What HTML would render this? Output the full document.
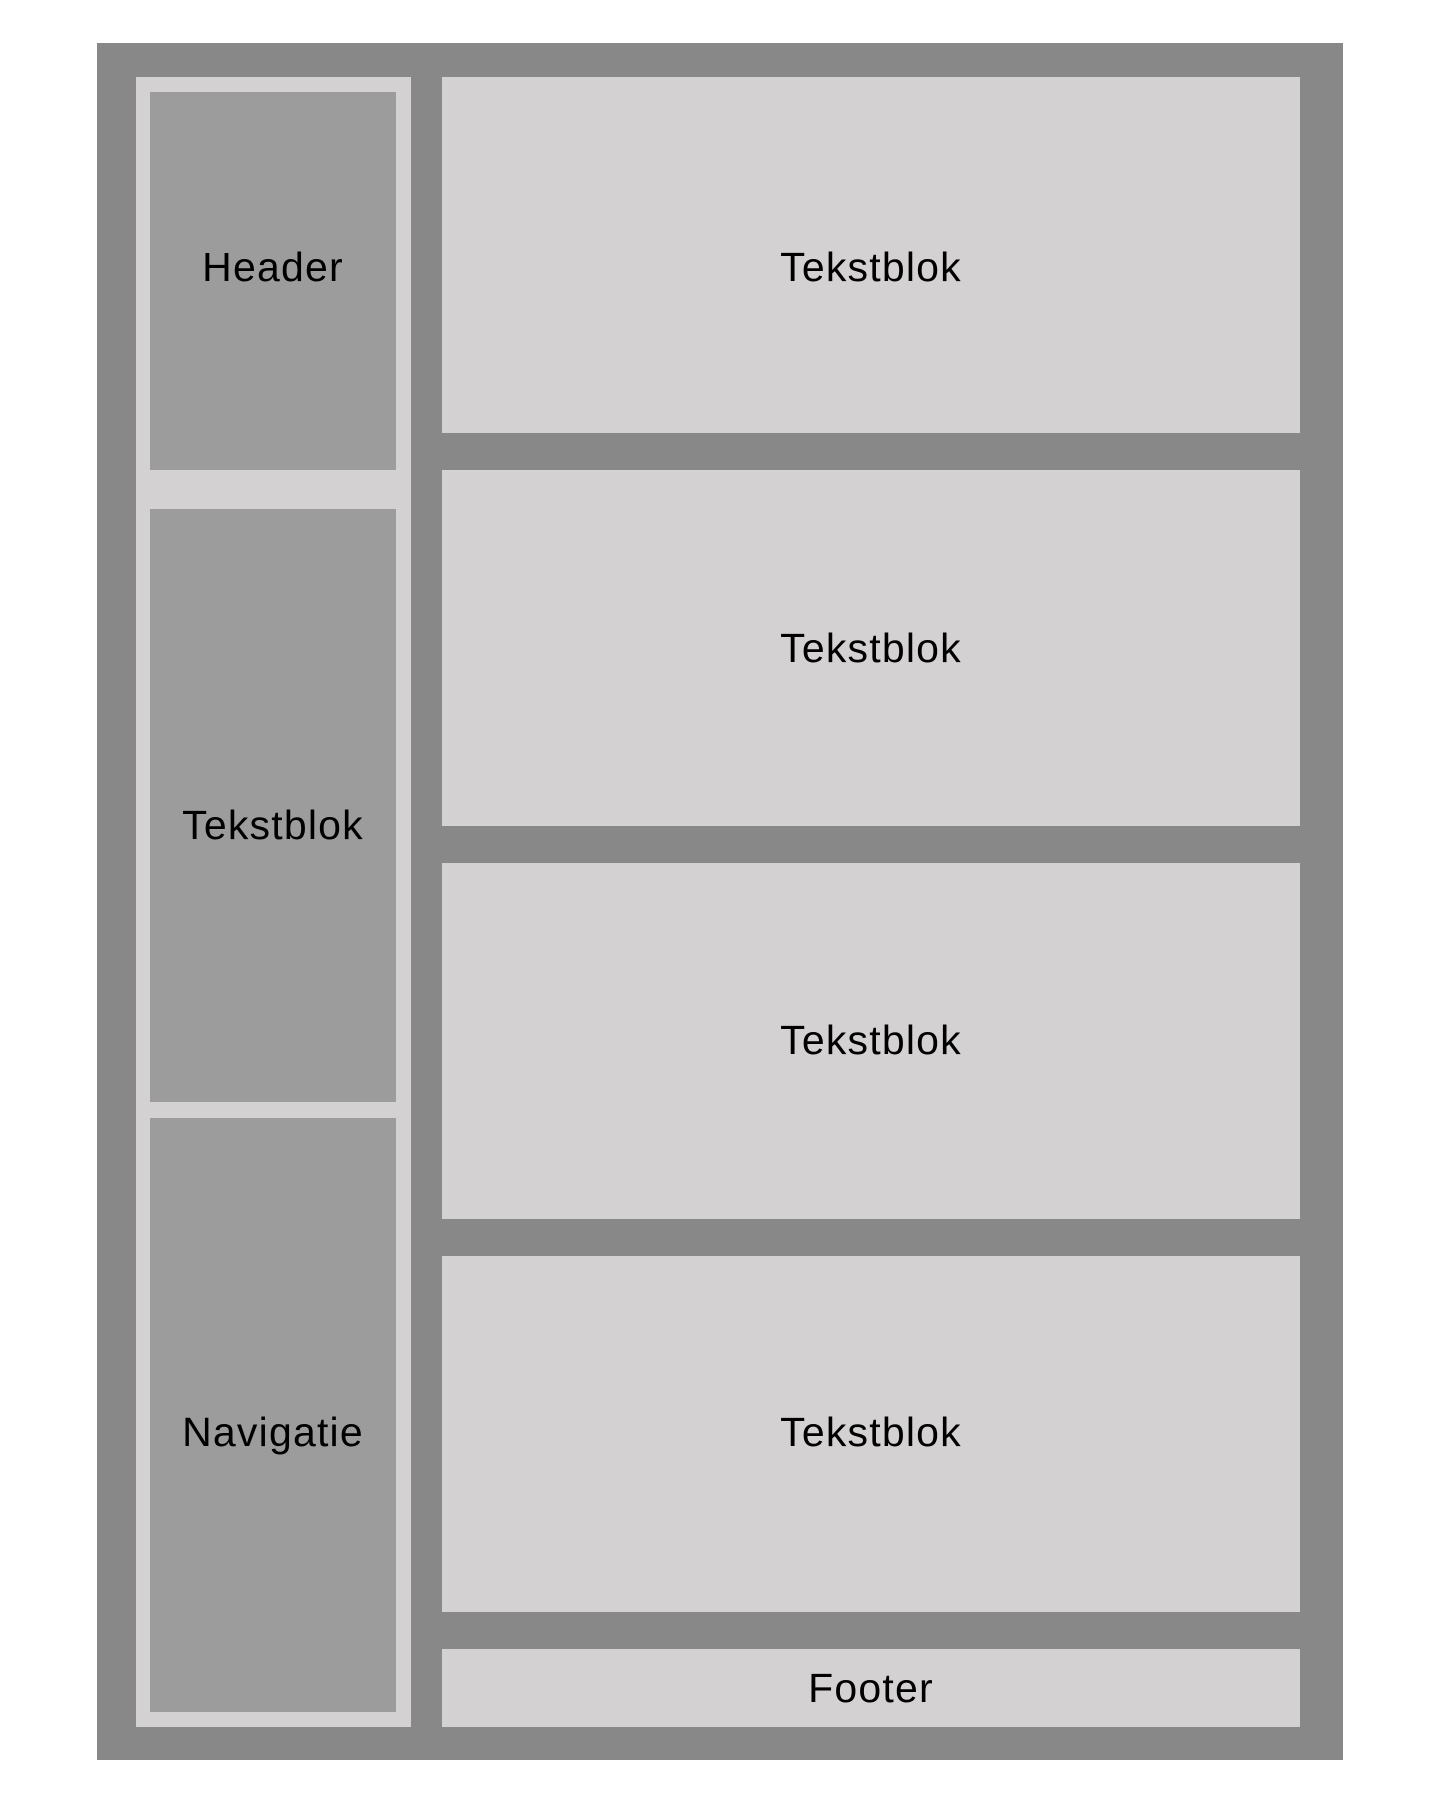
<!DOCTYPE html>
<html><head><meta charset="utf-8"><style>
html,body{margin:0;padding:0;width:1440px;height:1804px;background:#fff;position:relative;overflow:hidden}
div{position:absolute;box-sizing:border-box}
.t{font-family:"Liberation Sans",sans-serif;font-size:41px;letter-spacing:1.2px;color:#000;text-align:center;height:60px;line-height:60px;white-space:nowrap}
.d{background:#9c9c9c}.l{background:#d3d1d2}
</style></head><body>
<div style="left:97px;top:43px;width:1246px;height:1717px;background:#888"></div>
<div class="l" style="left:136px;top:77px;width:275px;height:1650px"></div>
<div class="d" style="left:150px;top:92px;width:246px;height:378px"></div>
<div class="d" style="left:150px;top:509px;width:246px;height:593px"></div>
<div class="d" style="left:150px;top:1118px;width:246px;height:594px"></div>
<div class="l" style="left:442px;top:77px;width:858px;height:356px"></div>
<div class="l" style="left:442px;top:470px;width:858px;height:356px"></div>
<div class="l" style="left:442px;top:863px;width:858px;height:356px"></div>
<div class="l" style="left:442px;top:1256px;width:858px;height:356px"></div>
<div class="l" style="left:442px;top:1649px;width:858px;height:78px"></div>
<div class="t" style="left:150px;width:246px;top:237px">Header</div>
<div class="t" style="left:150px;width:246px;top:795px">Tekstblok</div>
<div class="t" style="left:150px;width:246px;top:1402px">Navigatie</div>
<div class="t" style="left:442px;width:858px;top:237px">Tekstblok</div>
<div class="t" style="left:442px;width:858px;top:618px">Tekstblok</div>
<div class="t" style="left:442px;width:858px;top:1010px">Tekstblok</div>
<div class="t" style="left:442px;width:858px;top:1402px">Tekstblok</div>
<div class="t" style="left:442px;width:858px;top:1658px">Footer</div>
</body></html>
